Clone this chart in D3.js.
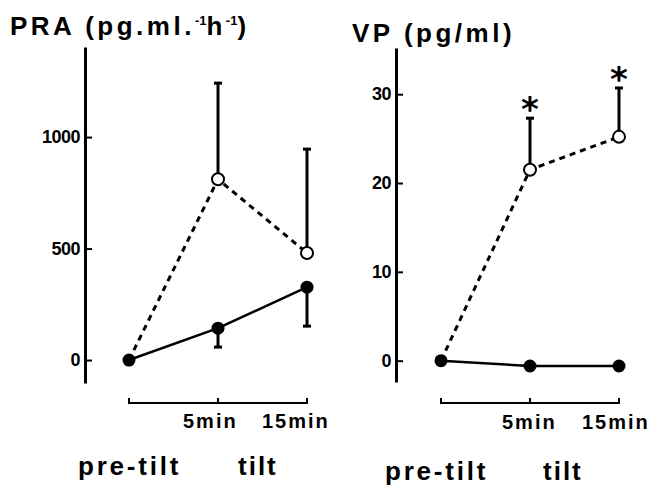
<!DOCTYPE html>
<html>
<head>
<meta charset="utf-8">
<script src="https://cdn.jsdelivr.net/npm/d3@7"></script>
<style>
  body { margin: 0; background: #fff; }
  text { font-family: "Liberation Sans", Arial, sans-serif; font-weight: bold; fill: #000; }
</style>
</head>
<body>
<div id="chart"></div>
<script>
// time points (x categories)
var timePoints = ["pre", "5min", "15min"];

// PRA panel values
var praTicks = [0, 500, 1000];
var praOpen = [0, 811, 480];
var praOpenErrTop = [null, 1242, 946];
var praFilled = [0, 143, 327];
var praFilledErrLow = [null, 58, 152];

// VP panel values
var vpTicks = [0, 10, 20, 30];
var vpOpen = [0, 21.5, 25.2];
var vpOpenErrTop = [null, 27.3, 30.7];
var vpFilled = [0, -0.6, -0.6];
var vpFilledErrLow = [null, -1.0, -1.0];
var vpSignif = [false, true, true];

var svgWidth = 653;
var svgHeight = 485;

var svg = d3.select("#chart")
  .append("svg")
  .attr("width", svgWidth)
  .attr("height", svgHeight);

function drawPanel(p) {
  var g = svg.append("g");

  var xScale = d3.scalePoint()
    .domain(timePoints)
    .range(p.xRange);

  var yScale = d3.scaleLinear()
    .domain(p.yDomain)
    .range([p.yBottom, p.yTop]);

  // y axis, ticks pointing inward
  var yAxis = d3.axisLeft(yScale)
    .tickValues(p.ticks)
    .tickSize(-7)
    .tickSizeOuter(0)
    .tickPadding(5)
    .tickFormat(d3.format("d"));

  var ax = g.append("g")
    .attr("transform", `translate(${p.axisX}, 0)`)
    .call(yAxis);
  ax.select(".domain").attr("stroke", "#000").attr("stroke-width", 3);
  ax.selectAll(".tick line").attr("stroke", "#000").attr("stroke-width", 2);
  ax.selectAll(".tick text")
    .style("font-size", "18px")
    .style("font-weight", "bold")
    .style("letter-spacing", "-0.5px");

  var line = d3.line()
    .x((d, i) => xScale(timePoints[i]))
    .y(d => yScale(d));

  // error bars, open series (upward)
  p.openErr.forEach(function(v, i) {
    if (v === null) return;
    var x = xScale(timePoints[i]);
    g.append("line")
      .attr("x1", x).attr("x2", x)
      .attr("y1", yScale(p.open[i])).attr("y2", yScale(v))
      .attr("stroke", "#000").attr("stroke-width", 3);
    g.append("line")
      .attr("x1", x - 4).attr("x2", x + 4)
      .attr("y1", yScale(v)).attr("y2", yScale(v))
      .attr("stroke", "#000").attr("stroke-width", 3);
  });

  // error bars, filled series (downward)
  p.filledErr.forEach(function(v, i) {
    if (v === null) return;
    var x = xScale(timePoints[i]);
    g.append("line")
      .attr("x1", x).attr("x2", x)
      .attr("y1", yScale(p.filled[i])).attr("y2", yScale(v))
      .attr("stroke", "#000").attr("stroke-width", 3);
    g.append("line")
      .attr("x1", x - 4).attr("x2", x + 4)
      .attr("y1", yScale(v)).attr("y2", yScale(v))
      .attr("stroke", "#000").attr("stroke-width", 3);
  });

  // dashed line (open circles)
  g.append("path")
    .datum(p.open)
    .attr("d", line)
    .attr("fill", "none")
    .attr("stroke", "#000")
    .attr("stroke-width", 3)
    .attr("stroke-dasharray", "6,5");

  // solid line (filled circles)
  g.append("path")
    .datum(p.filled)
    .attr("d", line)
    .attr("fill", "none")
    .attr("stroke", "#000")
    .attr("stroke-width", 2.5);

  g.selectAll(".open")
    .data(p.open.slice(1))
    .enter()
    .append("circle")
    .attr("cx", (d, i) => xScale(timePoints[i + 1]))
    .attr("cy", d => yScale(d))
    .attr("r", 6)
    .attr("fill", "#fff")
    .attr("stroke", "#000")
    .attr("stroke-width", 2);

  g.selectAll(".filled")
    .data(p.filled)
    .enter()
    .append("circle")
    .attr("cx", (d, i) => xScale(timePoints[i]))
    .attr("cy", d => yScale(d))
    .attr("r", 6.5)
    .attr("fill", "#000");

  // significance asterisks
  if (p.signif) {
    p.signif.forEach(function(s, i) {
      if (!s) return;
      g.append("text")
        .attr("x", xScale(timePoints[i]))
        .attr("y", yScale(p.openErr[i]) + 3)
        .attr("text-anchor", "middle")
        .style("font-family", "DejaVu Sans, sans-serif")
        .style("font-size", "34px")
        .text("*");
    });
  }

  // time bracket under the plot
  var x0 = xScale(timePoints[0]);
  var x2 = xScale(timePoints[2]);
  var by = 403;
  g.append("path")
    .attr("d", `M${x0},${by - 5}V${by}H${x2}V${by - 5}`)
    .attr("fill", "none")
    .attr("stroke", "#000")
    .attr("stroke-width", 2);
  var xm = xScale(timePoints[1]);
  g.append("line")
    .attr("x1", xm).attr("x2", xm)
    .attr("y1", by - 5).attr("y2", by)
    .attr("stroke", "#000").attr("stroke-width", 2);

  // time labels
  g.append("text")
    .attr("x", p.min5X).attr("y", p.minY)
    .attr("font-size", "20px")
    .attr("letter-spacing", "2px")
    .text("5min");
  g.append("text")
    .attr("x", p.min15X).attr("y", p.minY)
    .attr("font-size", "20px")
    .attr("letter-spacing", "2px")
    .text("15min");

  g.append("text")
    .attr("x", p.preX).attr("y", p.phaseY)
    .attr("font-size", "26px")
    .attr("letter-spacing", "2.8px")
    .text("pre-tilt");
  g.append("text")
    .attr("x", p.tiltX).attr("y", p.phaseY)
    .attr("font-size", "26px")
    .attr("letter-spacing", "2px")
    .text("tilt");
}

drawPanel({
  xRange: [129, 307],
  axisX: 85,
  yDomain: [-103, 1404],
  yBottom: 383,
  yTop: 47,
  ticks: praTicks,
  open: praOpen,
  openErr: praOpenErrTop,
  filled: praFilled,
  filledErr: praFilledErrLow,
  min5X: 183, min15X: 262, minY: 428,
  preX: 78, tiltX: 238, phaseY: 475
});

drawPanel({
  xRange: [441, 619],
  axisX: 396,
  yDomain: [-2.4, 35.2],
  yBottom: 382,
  yTop: 48,
  ticks: vpTicks,
  open: vpOpen,
  openErr: vpOpenErrTop,
  filled: vpFilled,
  filledErr: vpFilledErrLow,
  signif: vpSignif,
  min5X: 502, min15X: 582, minY: 429,
  preX: 385, tiltX: 543, phaseY: 480
});

// panel titles
var t1 = svg.append("text")
  .attr("x", 10).attr("y", 35)
  .attr("font-size", "26px")
  .attr("letter-spacing", "3.5px");
t1.append("tspan").text("PRA (pg.ml.");
t1.append("tspan").attr("font-size", "13px").attr("dy", -10).attr("letter-spacing", "0px").text("-1");
t1.append("tspan").attr("dy", 10).text("h");
t1.append("tspan").attr("font-size", "13px").attr("dy", -10).attr("letter-spacing", "0px").text("-1");
t1.append("tspan").attr("dy", 10).text(")");

svg.append("text")
  .attr("x", 352).attr("y", 42)
  .attr("font-size", "26px")
  .attr("letter-spacing", "3.5px")
  .text("VP (pg/ml)");
</script>
</body>
</html>
